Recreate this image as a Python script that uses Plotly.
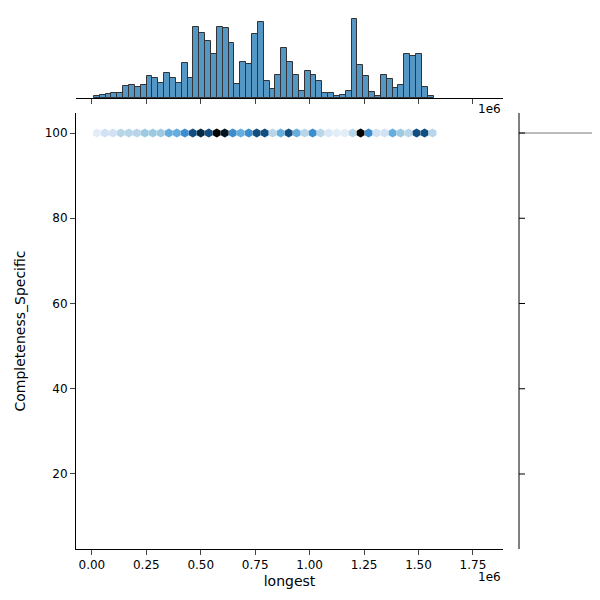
import plotly.graph_objects as go

hist_counts = [5,8,11,14,14,32,35,29,35,59,53,41,68,53,41,95,53,191,176,155,119,191,188,149,38,98,92,173,206,47,23,62,134,98,62,20,74,62,47,14,14,5,8,20,212,89,59,17,5,62,50,26,35,119,113,119,29,5]
bin_start = 0.009e6
bin_width = 0.0269e6
hex_vals = [1,2,2,3,3,3,4,4,4,5,5,6,8,9,8,10,9.5,6,5,6,8,8,3,5,8,5,3,6,3,1.5,1,1,3,10,6,2,2,5,4,3,8,8,3]
hex_start = 0.023e6
hex_step = 0.0367e6
y_value = 100
xticks = [0, 0.25e6, 0.5e6, 0.75e6, 1.0e6, 1.25e6, 1.5e6, 1.75e6]
xtick_text = ["0.00","0.25","0.50","0.75","1.00","1.25","1.50","1.75"]
yticks = [20, 40, 60, 80, 100]

scale = [[0, "#f3f8fd"], [0.2, "#d0e2f3"], [0.4, "#9ecae1"], [0.55, "#4a9ede"], [0.7, "#1f6fb0"], [0.85, "#0b3d66"], [1, "#000000"]]

fig = go.Figure()
hx = [bin_start + bin_width*(i+0.5) for i in range(len(hist_counts))]
fig.add_trace(go.Bar(x=hx, y=hist_counts, width=bin_width, marker=dict(color="#5497c5", line=dict(color="#333333", width=1)),
                     xaxis="x2", yaxis="y2"))
px_ = [hex_start + hex_step*i for i in range(len(hex_vals))]
fig.add_trace(go.Scatter(x=px_, y=[y_value]*len(px_), mode="markers",
                         marker=dict(symbol="hexagon", size=9, color=hex_vals, colorscale=scale, cmin=0, cmax=10,
                                     line=dict(width=0)), xaxis="x", yaxis="y"))
fig.add_trace(go.Scatter(x=[0, 1], y=[y_value, y_value], mode="lines", line=dict(color="#777777", width=1),
                         xaxis="x3", yaxis="y"))
xr = [-0.073e6, 1.888e6]
fig.update_layout(
    width=600, height=600, margin=dict(l=0, r=0, t=0, b=0, autoexpand=False), showlegend=False,
    plot_bgcolor="white", paper_bgcolor="white", bargap=0,
    font=dict(family="DejaVu Sans", size=12, color="black"),
    xaxis=dict(domain=[68/600, 495/600], range=xr, tickvals=xticks, ticktext=xtick_text, showline=True, linecolor="black",
               ticks="outside", showgrid=False, zeroline=False, automargin=False, title=dict(text="longest", standoff=4)),
    yaxis=dict(domain=[1-541/600, 1-105/600], range=[2.4, 104.7], tickvals=yticks, showline=True, linecolor="black",
               ticks="outside", showgrid=False, zeroline=False, automargin=False, title=dict(text="Completeness_Specific")),
    xaxis2=dict(domain=[68/600, 495/600], range=xr, tickvals=xticks, showticklabels=False, showline=True, linecolor="black",
                ticks="outside", showgrid=False, zeroline=False, anchor="y2", automargin=False),
    yaxis2=dict(domain=[1-90/600, 1-10/600], range=[0, 216], visible=False, anchor="x2"),
    xaxis3=dict(domain=[511/600, 1], range=[0, 1.1], visible=False, anchor="y"),
    annotations=[dict(text="1e6", x=495/600, y=1-560/600, xref="paper", yref="paper", showarrow=False, xanchor="right", yanchor="top"),
                 dict(text="1e6", x=495/600, y=1-92/600, xref="paper", yref="paper", showarrow=False, xanchor="right", yanchor="top")],
    shapes=[dict(type="line", xref="paper", yref="paper", x0=511/600, x1=511/600, y0=1-541/600, y1=1-105/600, line=dict(color="black", width=1))],
)
for t in yticks:
    fig.add_shape(type="line", xref="paper", yref="y", x0=511/600, x1=517/600, y0=t, y1=t, line=dict(color="black", width=1))
fig.write_html("out.html")
